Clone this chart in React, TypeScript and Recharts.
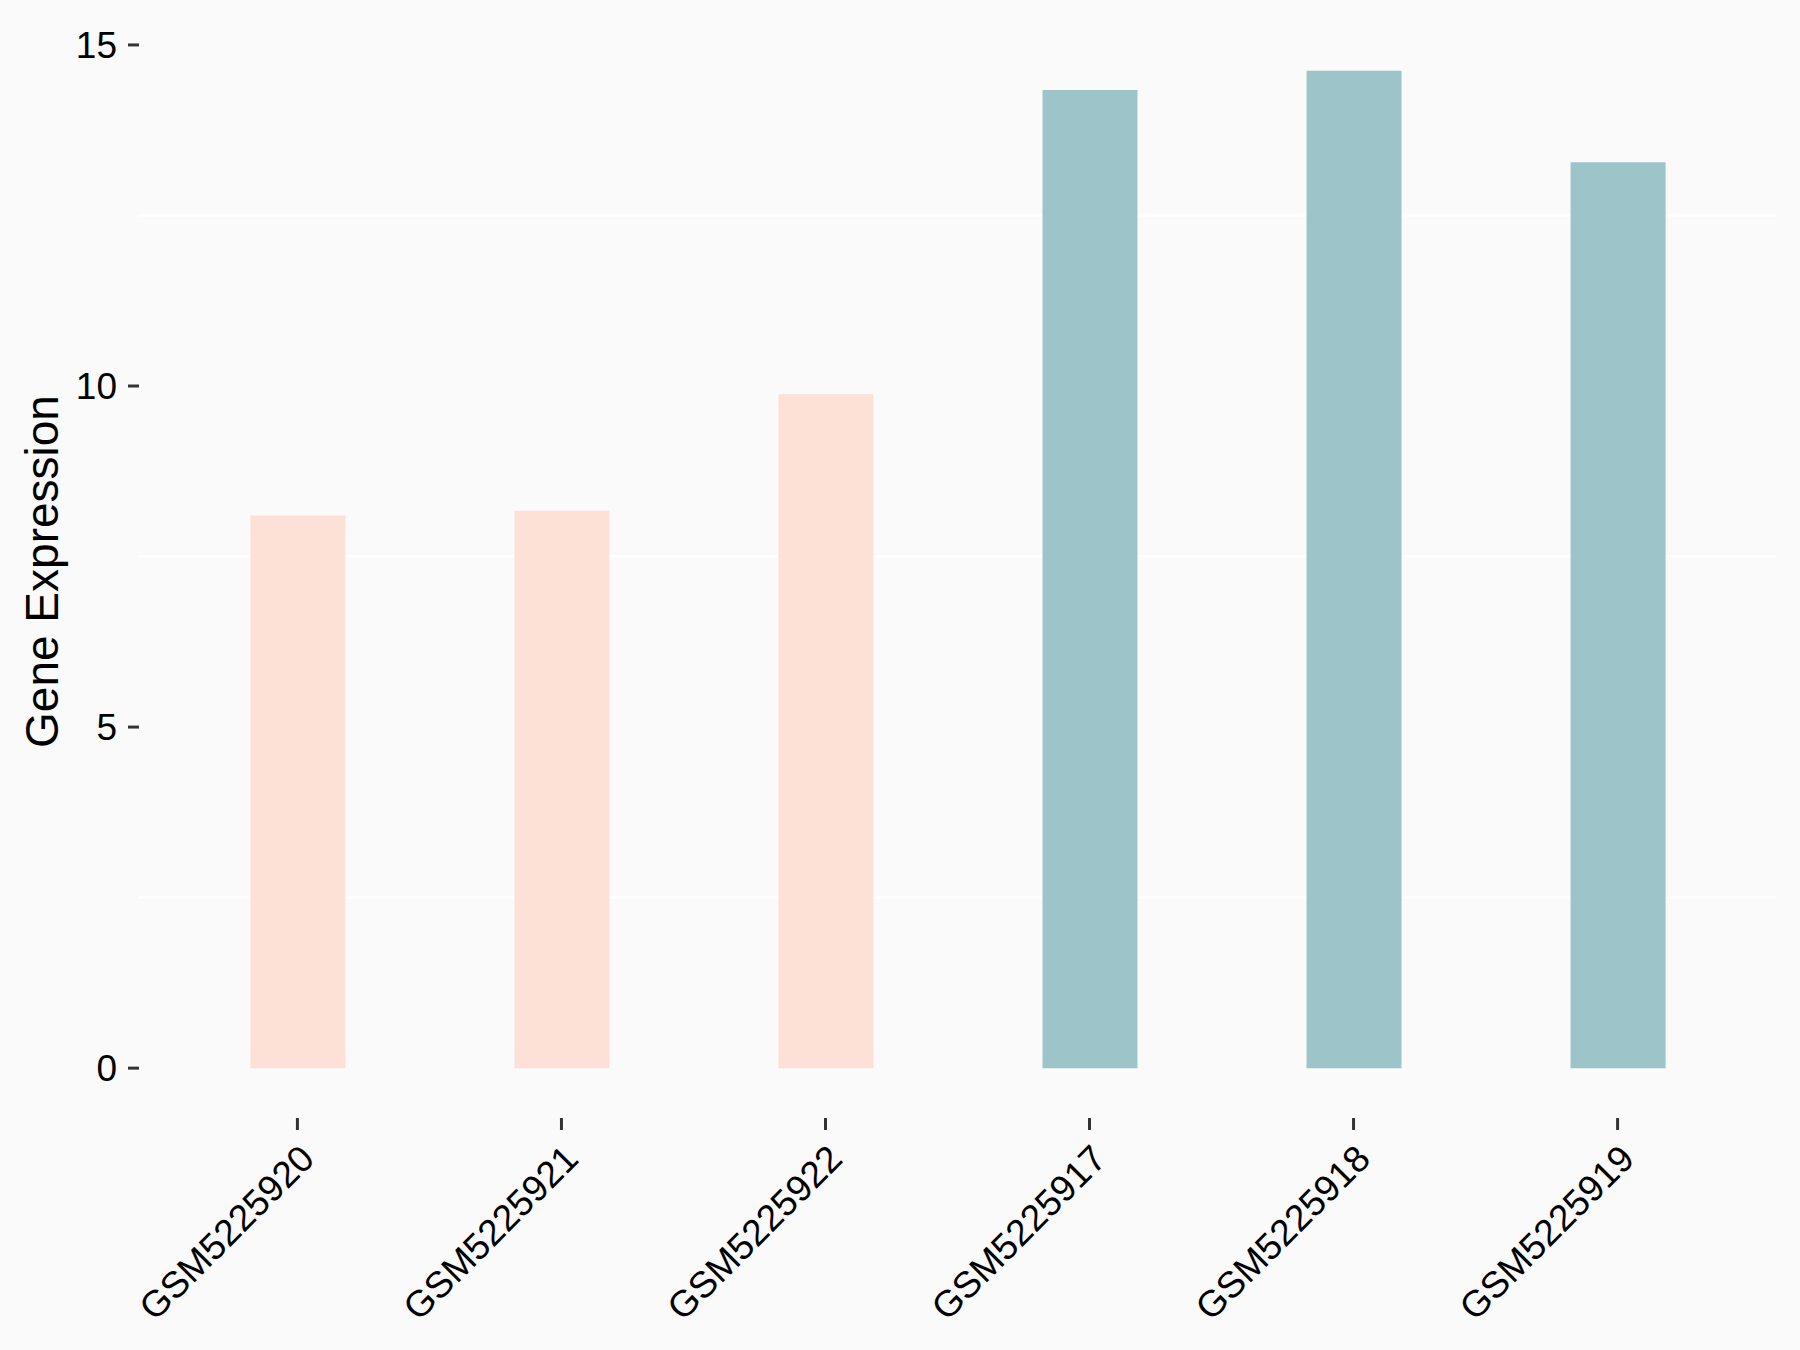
import { BarChart, Bar, XAxis, YAxis, CartesianGrid, Cell, Label } from "recharts";

// sample ids in plotting order
const samples = [
  "GSM5225920",
  "GSM5225921",
  "GSM5225922",
  "GSM5225917",
  "GSM5225918",
  "GSM5225919",
];
const expression = [8.1, 8.17, 9.88, 14.34, 14.62, 13.28];
const groups = ["B", "B", "B", "A", "A", "A"];
const yTicks = [0, 5, 10, 15];
const minorTicks = [2.5, 7.5, 12.5];
const yDomain: [number, number] = [-0.731, 15.351];

const groupColors: Record<string, string> = { A: "#9DC4C8", B: "#FDE0D6" };
const FONT = "'Liberation Sans', Arial, sans-serif";

const data = samples.map((s, i) => ({ sample: s, value: expression[i], group: groups[i] }));

const XTick = (props: any) => {
  const { x, y, payload } = props;
  return (
    <g transform={`translate(${x},${y})`}>
      <text
        x={0}
        y={0}
        dy="0.72em"
        textAnchor="end"
        transform="rotate(-45)"
        fontSize={37}
        fontFamily={FONT}
        fill="#000"
      >
        {payload.value}
      </text>
    </g>
  );
};

// minor gridlines (ggplot style): use the axis scale when given, else the plot offset
const minorGrid = ({ yAxis, offset }: any) => {
  const sc = yAxis && yAxis.scale;
  if (typeof sc === "function") return minorTicks.map((v) => sc(v));
  if (sc && typeof sc.map === "function") return minorTicks.map((v) => sc.map(v));
  const [lo, hi] = yDomain;
  return minorTicks.map((v) => offset.top + (offset.height * (hi - v)) / (hi - lo));
};

export default function App() {
  return (
    <div
      style={{
        position: "absolute",
        left: 0,
        top: 0,
        width: 1800,
        height: 1350,
        background: "#FAFAFA",
      }}
    >
      <BarChart
        width={1800}
        height={1350}
        data={data}
        margin={{ top: 21, right: 24, bottom: 0, left: 0 }}
      >
        <CartesianGrid
          vertical={false}
          stroke="#FFFFFF"
          strokeWidth={2}
          horizontalCoordinatesGenerator={minorGrid}
        />
        <XAxis
          dataKey="sample"
          height={232}
          axisLine={false}
          tickSize={12}
          tickMargin={12}
          tickLine={{ stroke: "#333333", strokeWidth: 3 }}
          padding={{ left: 26.4, right: 26.4 }}
          interval={0}
          tick={<XTick />}
        />
        <YAxis
          type="number"
          width={139}
          domain={yDomain}
          allowDataOverflow
          ticks={yTicks}
          axisLine={false}
          tickSize={11}
          tickMargin={11}
          tickLine={{ stroke: "#333333", strokeWidth: 3 }}
          tick={{ fontSize: 37, fontFamily: FONT, fill: "#000" }}
        >
          <Label
            content={({ viewBox }: any) => {
              const cy = viewBox.y + viewBox.height / 2 + 2;
              return (
                <text
                  x={58}
                  y={cy}
                  transform={`rotate(-90, 58, ${cy})`}
                  textAnchor="middle"
                  fontSize={46}
                  fontFamily={FONT}
                  fill="#000"
                >
                  Gene Expression
                </text>
              );
            }}
          />
        </YAxis>
        <Bar dataKey="value" barSize={95} isAnimationActive={false}>
          {data.map((d, i) => (
            <Cell key={i} fill={groupColors[d.group]} />
          ))}
        </Bar>
      </BarChart>
    </div>
  );
}
